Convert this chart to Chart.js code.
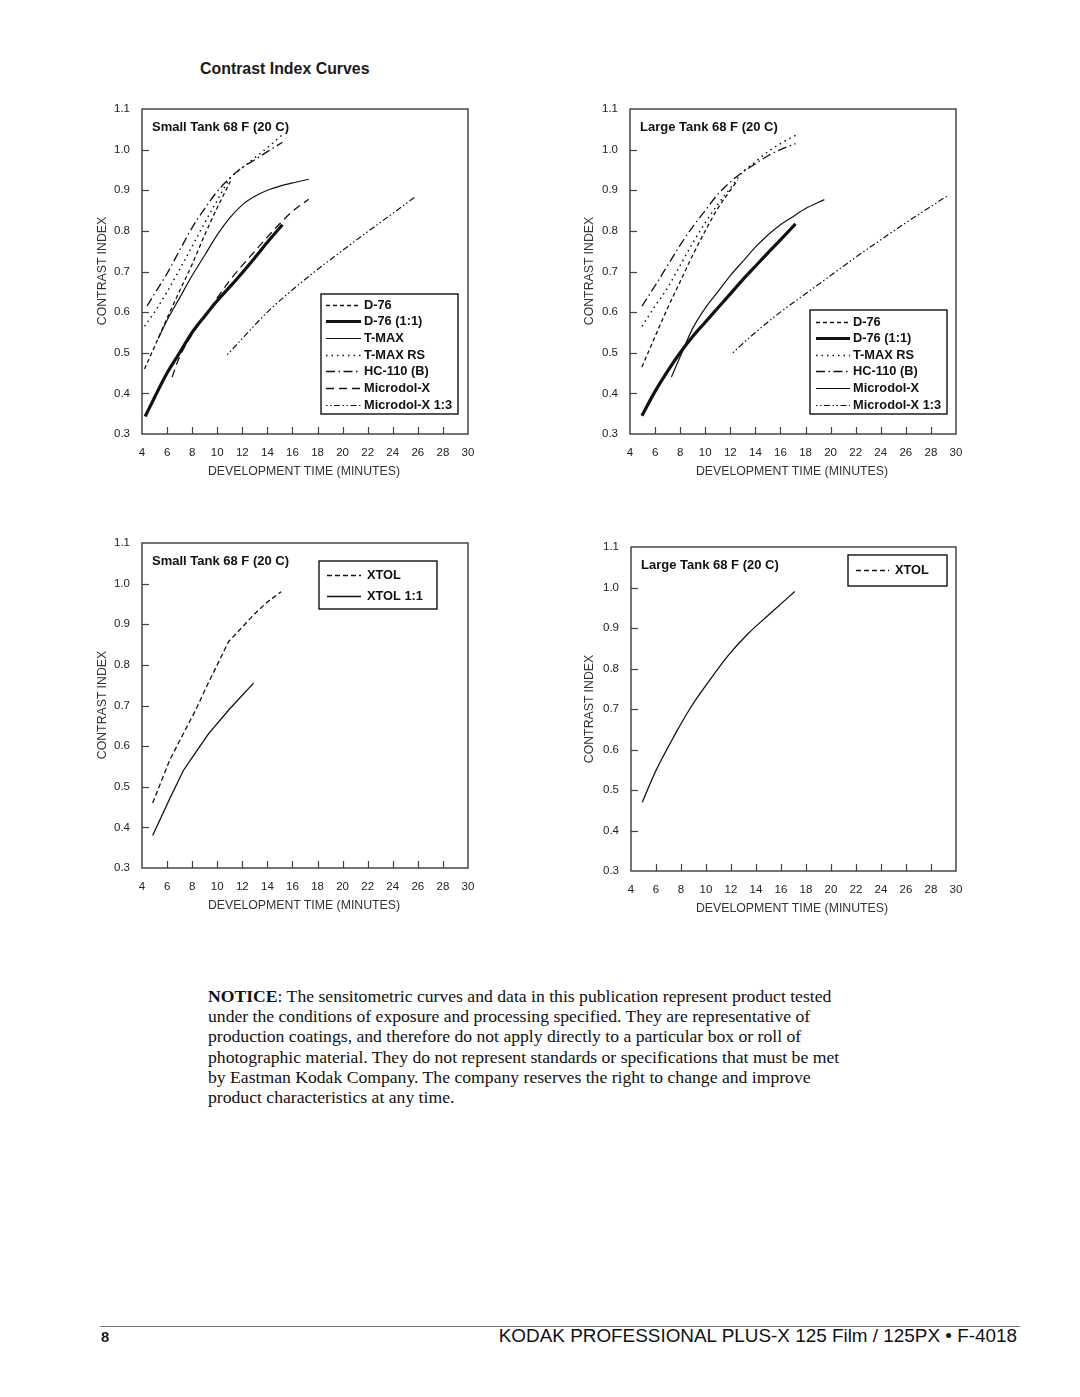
<!DOCTYPE html>
<html><head><meta charset="utf-8">
<script src="https://cdn.jsdelivr.net/npm/chart.js@4.4.1/dist/chart.umd.min.js"></script>
<style>
html,body{margin:0;padding:0;background:#fff;}
body{width:1080px;height:1397px;position:relative;overflow:hidden;font-family:"Liberation Sans",Arial,sans-serif;color:#1a1a1a;}
canvas{position:absolute;}
.ttl{position:absolute;left:200px;top:60px;font-weight:bold;font-size:15.9px;white-space:nowrap;}
.xt{position:absolute;font-size:12.3px;transform:translate(-50%,-50%);white-space:nowrap;color:#333;}
.yt{position:absolute;font-size:12.3px;transform:translate(-50%,-50%) rotate(-90deg);white-space:nowrap;color:#333;}
.notice{position:absolute;left:208px;top:986px;font-family:"Liberation Serif","Times New Roman",serif;font-size:17.65px;line-height:20.2px;white-space:nowrap;color:#111;}
.rule{position:absolute;left:100px;top:1326px;width:920px;height:0;border-top:1px solid #777;}
.pg{position:absolute;left:101px;top:1328px;font-weight:bold;font-size:15px;}
.foot{position:absolute;right:63px;top:1325px;font-size:18.9px;white-space:nowrap;color:#111;}
</style>
</head><body>
<div class="ttl">Contrast Index Curves</div>

<canvas id="c1" width="390" height="385" style="left:90px;top:95px"></canvas>
<canvas id="c2" width="390" height="385" style="left:575px;top:95px"></canvas>
<canvas id="c3" width="390" height="385" style="left:90px;top:530px"></canvas>
<canvas id="c4" width="390" height="385" style="left:575px;top:535px"></canvas>

<div class="yt" style="left:102px;top:271px">CONTRAST INDEX</div>
<div class="xt" style="left:304px;top:471px">DEVELOPMENT TIME (MINUTES)</div>
<div class="yt" style="left:589px;top:271px">CONTRAST INDEX</div>
<div class="xt" style="left:792px;top:471px">DEVELOPMENT TIME (MINUTES)</div>
<div class="yt" style="left:102px;top:705px">CONTRAST INDEX</div>
<div class="xt" style="left:304px;top:905px">DEVELOPMENT TIME (MINUTES)</div>
<div class="yt" style="left:589px;top:709px">CONTRAST INDEX</div>
<div class="xt" style="left:792px;top:908px">DEVELOPMENT TIME (MINUTES)</div>

<div class="notice"><b>NOTICE</b>: The sensitometric curves and data in this publication represent product tested<br>under the conditions of exposure and processing specified. They are representative of<br>production coatings, and therefore do not apply directly to a particular box or roll of<br>photographic material. They do not represent standards or specifications that must be met<br>by Eastman Kodak Company. The company reserves the right to change and improve<br>product characteristics at any time.</div>

<div class="rule"></div>
<div class="pg">8</div>
<div class="foot">KODAK PROFESSIONAL PLUS-X 125 Film / 125PX • F-4018</div>

<script>
// ---- tick labels ----
const xTickLabels = ['4','6','8','10','12','14','16','18','20','22','24','26','28','30'];
const yTickLabels = ['0.3','0.4','0.5','0.6','0.7','0.8','0.9','1.0','1.1'];

// ---- Small Tank 68 F (20 C) ----
const smD76_t   = [4.2, 5, 6, 7, 8, 9, 10, 11.05];
const smD76_ci  = [0.46, 0.515, 0.585, 0.652, 0.718, 0.79, 0.857, 0.922];
const smD7611_t  = [4.25, 5, 6, 7, 8, 9, 10, 11, 12, 13, 14, 15.2];
const smD7611_ci = [0.343, 0.39, 0.45, 0.5, 0.55, 0.59, 0.628, 0.662, 0.697, 0.734, 0.772, 0.815];
const smTmax_t  = [5.3, 6, 7, 8, 9, 10, 11, 12, 13, 14, 15, 16, 17.3];
const smTmax_ci = [0.535, 0.58, 0.635, 0.69, 0.74, 0.79, 0.832, 0.864, 0.885, 0.9, 0.91, 0.918, 0.927];
const smTmaxRS_t  = [4.2, 5, 6, 7, 8, 9, 10, 11, 12, 13, 14, 15.2];
const smTmaxRS_ci = [0.565, 0.6, 0.65, 0.705, 0.762, 0.82, 0.875, 0.928, 0.955, 0.98, 1.005, 1.037];
const smHC110_t  = [4.4, 5, 6, 7, 8, 9, 10, 11, 12, 13, 14, 15.2];
const smHC110_ci = [0.615, 0.645, 0.695, 0.752, 0.808, 0.855, 0.897, 0.93, 0.956, 0.975, 0.995, 1.018];
const smMicro_t  = [6.4, 7, 8, 9, 10, 11, 12, 13, 14, 15, 16, 17.3];
const smMicro_ci = [0.44, 0.49, 0.545, 0.59, 0.635, 0.678, 0.715, 0.75, 0.785, 0.818, 0.848, 0.878];
const smMicro13_t  = [10.8, 12, 14, 16, 18, 20, 22, 24, 25.8];
const smMicro13_ci = [0.495, 0.535, 0.6, 0.655, 0.705, 0.752, 0.798, 0.843, 0.884];

// ---- Large Tank 68 F (20 C) ----
const lgD76_t  = [4.95, 6, 7, 8, 9, 10, 11, 12, 12.6];
const lgD76_ci = [0.465, 0.54, 0.61, 0.675, 0.74, 0.8, 0.855, 0.9, 0.925];
const lgD7611_t  = [4.95, 6, 7, 8, 9, 10, 11, 12, 13, 14, 15, 16, 17.2];
const lgD7611_ci = [0.345, 0.405, 0.455, 0.5, 0.54, 0.575, 0.61, 0.645, 0.68, 0.713, 0.746, 0.778, 0.817];
const lgTmaxRS_t  = [4.95, 6, 7, 8, 9, 10, 11, 12, 13, 14, 15, 16, 17.2];
const lgTmaxRS_ci = [0.565, 0.615, 0.66, 0.715, 0.77, 0.82, 0.865, 0.905, 0.945, 0.97, 0.995, 1.015, 1.035];
const lgHC110_t  = [4.95, 6, 7, 8, 9, 10, 11, 12, 13, 14, 15, 16, 17.2];
const lgHC110_ci = [0.615, 0.665, 0.715, 0.765, 0.81, 0.85, 0.89, 0.92, 0.945, 0.965, 0.985, 1.0, 1.015];
const lgMicro_t  = [7.3, 8, 9, 10, 11, 12, 13, 14, 15, 16, 17, 18, 19.5];
const lgMicro_ci = [0.44, 0.49, 0.56, 0.61, 0.65, 0.69, 0.725, 0.76, 0.79, 0.815, 0.835, 0.855, 0.877];
const lgMicro13_t  = [12.2, 14, 16, 18, 20, 22, 24, 26, 28, 29.4];
const lgMicro13_ci = [0.5, 0.55, 0.6, 0.645, 0.69, 0.735, 0.778, 0.82, 0.86, 0.888];

// ---- XTOL ----
const smXtol_t  = [4.85, 6.2, 7.2, 8.3, 9.2, 10, 10.9, 11.6, 12.9, 14, 15.1];
const smXtol_ci = [0.46, 0.565, 0.625, 0.69, 0.75, 0.8, 0.857, 0.88, 0.923, 0.955, 0.98];
const smXtol11_t  = [4.85, 6.2, 7.3, 8.3, 9.3, 11, 12.9];
const smXtol11_ci = [0.38, 0.47, 0.54, 0.585, 0.63, 0.692, 0.755];
const lgXtol_t  = [4.9, 6, 7.5, 8.8, 10.2, 11.8, 13.4, 15, 17.1];
const lgXtol_ci = [0.47, 0.548, 0.636, 0.705, 0.767, 0.833, 0.887, 0.932, 0.99];

// ---- line styles ----
const ST = {
  d76:     {w:1.3, dash:[4,3]},
  d7611:   {w:3.2, dash:[]},
  tmax:    {w:1.2, dash:[]},
  tmaxrs:  {w:1.5, dash:[1.5,4]},
  hc110:   {w:1.3, dash:[9,3.5,1.5,3.5]},
  micro:   {w:1.3, dash:[8,5]},
  microS:  {w:1.2, dash:[]},
  micro13: {w:1.2, dash:[1.5,2.5,1.5,2.5,6,2.5]},
  xtol:    {w:1.3, dash:[5,3]},
  xtol11:  {w:1.3, dash:[]}
};

function pts(t, ci){ return t.map((x,i)=>({x:x, y:ci[i]})); }
function ds(label, t, ci, st, smooth){
  return {label:label, data:pts(t,ci), borderColor:'#111', borderWidth:st.w, borderDash:st.dash,
    pointRadius:0, fill:false, tension: smooth===false?0:0.4,
    cubicInterpolationMode: smooth===false?'default':'monotone', borderCapStyle:'butt'};
}

const FONT = '"Liberation Sans", Arial, sans-serif';

function framePlugin(o){
  return {
    id:'frame'+o.id,
    afterDraw(chart){
      const ctx = chart.ctx, a = chart.chartArea;
      const xs = chart.scales.x, ys = chart.scales.y;
      ctx.save();
      // ticks inward
      ctx.strokeStyle = '#444'; ctx.lineWidth = 1.2; ctx.setLineDash([]);
      xs.ticks.forEach(tk=>{
        if (tk.value<=xs.min || tk.value>=xs.max) return;
        const px = Math.round(xs.getPixelForValue(tk.value))+0.5;
        ctx.beginPath(); ctx.moveTo(px, a.bottom); ctx.lineTo(px, a.bottom-7); ctx.stroke();
      });
      ys.ticks.forEach(tk=>{
        if (tk.value<=ys.min+1e-9 || tk.value>=ys.max-1e-9) return;
        const py = Math.round(ys.getPixelForValue(tk.value))+0.5;
        ctx.beginPath(); ctx.moveTo(a.left, py); ctx.lineTo(a.left+7, py); ctx.stroke();
      });
      // frame
      ctx.strokeStyle = '#3a3a3a'; ctx.lineWidth = 1.4;
      ctx.strokeRect(a.left, a.top, a.right-a.left, a.bottom-a.top);
      // inner title
      ctx.fillStyle = '#111'; ctx.font = 'bold 13px '+FONT; ctx.textBaseline='middle'; ctx.textAlign='left';
      ctx.fillText(o.title, a.left+10, a.top+18);
      // legend
      const L = o.legend, ox = o.ox, oy = o.oy;
      ctx.fillStyle='#fff';
      ctx.fillRect(L.box[0]-ox, L.box[1]-oy, L.box[2]-L.box[0], L.box[3]-L.box[1]);
      ctx.strokeStyle='#111'; ctx.lineWidth=1.4;
      ctx.strokeRect(L.box[0]-ox, L.box[1]-oy, L.box[2]-L.box[0], L.box[3]-L.box[1]);
      L.items.forEach((it,i)=>{
        const y = L.rows[i]-oy;
        ctx.strokeStyle='#111'; ctx.lineWidth=it.st.w; ctx.setLineDash(it.st.dash);
        ctx.beginPath(); ctx.moveTo(L.sx[0]-ox, Math.round(y)+0.5); ctx.lineTo(L.sx[1]-ox, Math.round(y)+0.5); ctx.stroke();
        ctx.setLineDash([]);
        ctx.fillStyle='#111'; ctx.font='bold 12.8px '+FONT; ctx.textBaseline='middle'; ctx.textAlign='left';
        ctx.fillText(it.label, L.tx-ox, y+0.5);
      });
      ctx.restore();
    }
  };
}

function makeChart(id, o){
  const el = document.getElementById(id);
  return new Chart(el, {
    type:'line',
    data:{datasets:o.datasets},
    options:{
      responsive:false, animation:false, devicePixelRatio:1,
      layout:{padding:{left:0, top:o.padTop, right:o.padRight, bottom:0}},
      plugins:{legend:{display:false}, tooltip:{enabled:false}},
      scales:{
        x:{type:'linear', min:4, max:30,
           ticks:{stepSize:2, padding:o.xPad, color:'#222', font:{family:FONT, size:11.5}, maxRotation:0, autoSkip:false,
                  callback:(v,i)=>xTickLabels[i]},
           grid:{display:false, drawTicks:false}, border:{display:false},
           afterFit:(s)=>{ s.height = o.xH; s.paddingLeft = 0; s.paddingRight = 0; }},
        y:{type:'linear', min:0.3, max:1.1,
           ticks:{stepSize:0.1, padding:12, color:'#222', font:{family:FONT, size:11.5}, autoSkip:false,
                  callback:(v,i)=>yTickLabels[i]},
           grid:{display:false, drawTicks:false}, border:{display:false},
           afterFit:(s)=>{ s.width = o.yW; s.paddingTop = 0; s.paddingBottom = 0; }}
      }
    },
    plugins:[framePlugin(o)]
  });
}

makeChart('c1', {
  id:1, ox:90, oy:95, padTop:14, padRight:12, yW:52, xH:46, xPad:12,
  title:'Small Tank 68 F (20 C)',
  datasets:[
    ds('D-76', smD76_t, smD76_ci, ST.d76),
    ds('D-76 (1:1)', smD7611_t, smD7611_ci, ST.d7611),
    ds('T-MAX', smTmax_t, smTmax_ci, ST.tmax),
    ds('T-MAX RS', smTmaxRS_t, smTmaxRS_ci, ST.tmaxrs),
    ds('HC-110 (B)', smHC110_t, smHC110_ci, ST.hc110),
    ds('Microdol-X', smMicro_t, smMicro_ci, ST.micro),
    ds('Microdol-X 1:3', smMicro13_t, smMicro13_ci, ST.micro13)
  ],
  legend:{box:[321,294,458,414], rows:[304.5,321,337.5,354.5,371,387.5,404.5], sx:[326,361], tx:364,
    items:[{label:'D-76',st:ST.d76},{label:'D-76 (1:1)',st:ST.d7611},{label:'T-MAX',st:ST.tmax},
      {label:'T-MAX RS',st:ST.tmaxrs},{label:'HC-110 (B)',st:ST.hc110},{label:'Microdol-X',st:ST.micro},
      {label:'Microdol-X 1:3',st:ST.micro13}]}
});

makeChart('c2', {
  id:2, ox:575, oy:95, padTop:14, padRight:9, yW:55, xH:46, xPad:12,
  title:'Large Tank 68 F (20 C)',
  datasets:[
    ds('D-76', lgD76_t, lgD76_ci, ST.d76),
    ds('D-76 (1:1)', lgD7611_t, lgD7611_ci, ST.d7611),
    ds('T-MAX RS', lgTmaxRS_t, lgTmaxRS_ci, ST.tmaxrs),
    ds('HC-110 (B)', lgHC110_t, lgHC110_ci, ST.hc110),
    ds('Microdol-X', lgMicro_t, lgMicro_ci, ST.microS),
    ds('Microdol-X 1:3', lgMicro13_t, lgMicro13_ci, ST.micro13)
  ],
  legend:{box:[810,310,947,414], rows:[321.5,338,354.5,371,387.5,404.5], sx:[816,850], tx:853,
    items:[{label:'D-76',st:ST.d76},{label:'D-76 (1:1)',st:ST.d7611},{label:'T-MAX RS',st:ST.tmaxrs},
      {label:'HC-110 (B)',st:ST.hc110},{label:'Microdol-X',st:ST.microS},{label:'Microdol-X 1:3',st:ST.micro13}]}
});

makeChart('c3', {
  id:3, ox:90, oy:530, padTop:13, padRight:12, yW:52, xH:47, xPad:12,
  title:'Small Tank 68 F (20 C)',
  datasets:[
    ds('XTOL', smXtol_t, smXtol_ci, ST.xtol, false),
    ds('XTOL 1:1', smXtol11_t, smXtol11_ci, ST.xtol11, false)
  ],
  legend:{box:[319,561,437,609], rows:[575,595.5], sx:[327,361], tx:367,
    items:[{label:'XTOL',st:ST.xtol},{label:'XTOL 1:1',st:ST.xtol11}]}
});

makeChart('c4', {
  id:4, ox:575, oy:535, padTop:12, padRight:9, yW:56, xH:49, xPad:12,
  title:'Large Tank 68 F (20 C)',
  datasets:[
    ds('XTOL', lgXtol_t, lgXtol_ci, ST.xtol11)
  ],
  legend:{box:[848,555,947,586], rows:[570], sx:[856,889], tx:895,
    items:[{label:'XTOL',st:ST.xtol}]}
});
</script>
</body></html>
